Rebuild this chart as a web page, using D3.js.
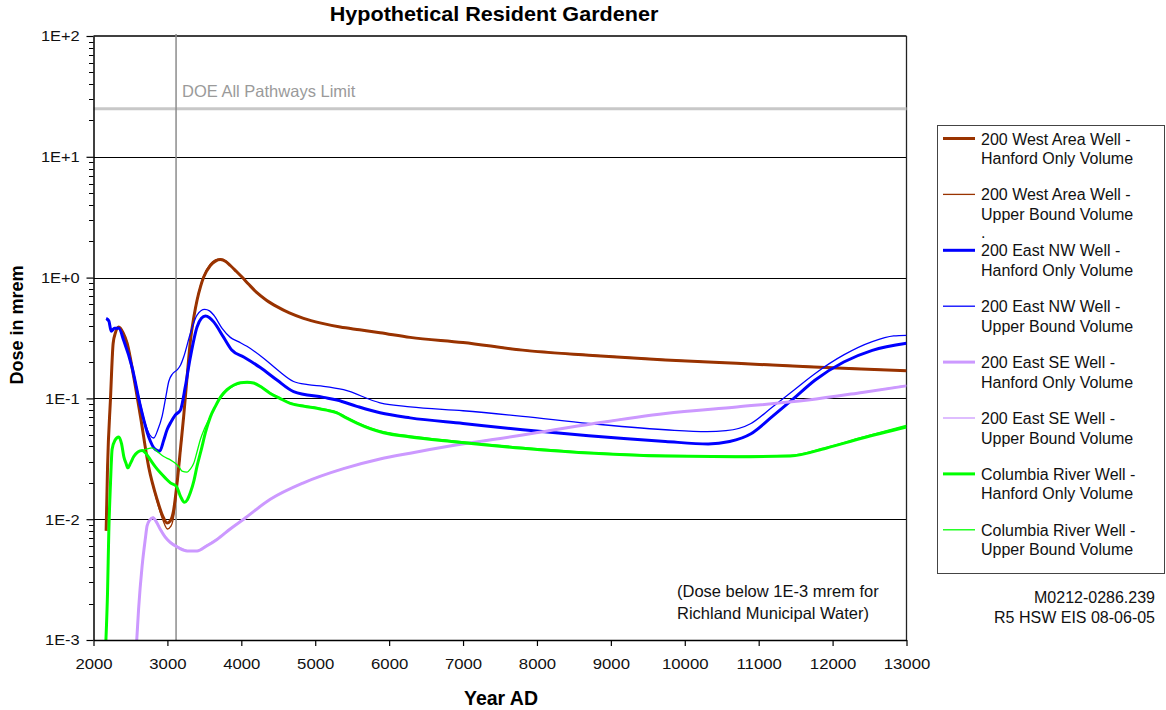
<!DOCTYPE html>
<html><head><meta charset="utf-8">
<script src="https://cdn.jsdelivr.net/npm/d3@7"></script>
<style>
body{margin:0;background:#fff}
svg{display:block;font-family:"Liberation Sans",Arial,sans-serif}
</style>
</head><body>
<svg id="chart" width="1166" height="710"></svg>
<script>
// ---------- data ----------
const chartTitle = "Hypothetical Resident Gardener";
const xAxisTitle = "Year AD";
const yAxisTitle = "Dose in mrem";
const xTickValues = [2000,3000,4000,5000,6000,7000,8000,9000,10000,11000,12000,13000];
const yTickValues = [1e-3,1e-2,1e-1,1,10,100];
const yTickLabels = ["1E-3","1E-2","1E-1","1E+0","1E+1","1E+2"];
const doeLimit = 25;
const doeLabel = "DOE All Pathways Limit";
const markerYear = 3117;
const noteLines = ["(Dose below 1E-3 mrem for","Richland Municipal Water)"];
const idLines = ["M0212-0286.239","R5 HSW EIS 08-06-05"];

const seriesLabels = [
  ["200 West Area Well -","Hanford Only Volume"],
  ["200 West Area Well -","Upper Bound Volume"],
  ["200 East NW Well -","Hanford Only Volume"],
  ["200 East NW Well -","Upper Bound Volume"],
  ["200 East SE Well -","Hanford Only Volume"],
  ["200 East SE Well -","Upper Bound Volume"],
  ["Columbia River Well -","Hanford Only Volume"],
  ["Columbia River Well -","Upper Bound Volume"]
];

// [year, dose mrem]
const westHanford = [[2171,0.008],[2190,0.027],[2230,0.1],[2266,0.286],[2297,0.35],[2342,0.39],[2400,0.35],[2455,0.286],[2545,0.15],[2635,0.071],[2747,0.027],[2860,0.0146],[2940,0.0105],[2995,0.0093],[3040,0.0097],[3080,0.0115],[3131,0.02],[3180,0.04],[3220,0.071],[3270,0.16],[3311,0.30],[3360,0.48],[3401,0.65],[3450,0.85],[3491,1.01],[3581,1.26],[3650,1.37],[3716,1.41],[3790,1.36],[3851,1.26],[3930,1.13],[4009,1.01],[4100,0.88],[4211,0.75],[4340,0.65],[4482,0.575],[4650,0.51],[4842,0.46],[5080,0.42],[5338,0.39],[5600,0.37],[5877,0.35],[6284,0.32],[7000,0.29],[7807,0.251],[8700,0.228],[9737,0.208],[10700,0.195],[11669,0.183],[12300,0.176],[13000,0.169]];
const westUpper = [[2171,0.0085],[2190,0.028],[2230,0.1],[2266,0.28],[2297,0.35],[2342,0.39],[2400,0.35],[2455,0.29],[2545,0.155],[2635,0.073],[2747,0.027],[2860,0.014],[2940,0.0098],[3000,0.0083],[3050,0.0088],[3090,0.011],[3131,0.019],[3180,0.038],[3220,0.07],[3270,0.16],[3311,0.30],[3360,0.49],[3401,0.66],[3450,0.87],[3491,1.03],[3581,1.29],[3650,1.40],[3716,1.43],[3790,1.37],[3851,1.27],[3930,1.14],[4009,1.01],[4100,0.88],[4211,0.75],[4340,0.65],[4482,0.575],[4650,0.51],[4842,0.46],[5080,0.42],[5338,0.39],[5600,0.37],[5877,0.35],[6284,0.32],[7000,0.29],[7807,0.252],[8700,0.229],[9737,0.209],[10700,0.196],[11669,0.184],[12300,0.177],[13000,0.17]];
const nwHanford = [[2171,0.46],[2207,0.44],[2239,0.36],[2284,0.38],[2342,0.38],[2410,0.30],[2523,0.18],[2635,0.086],[2747,0.048],[2838,0.0377],[2896,0.0366],[2950,0.045],[2995,0.055],[3050,0.064],[3108,0.073],[3176,0.08],[3243,0.126],[3311,0.22],[3401,0.39],[3460,0.46],[3514,0.48],[3570,0.465],[3626,0.43],[3761,0.32],[3874,0.25],[4032,0.22],[4257,0.18],[4482,0.142],[4707,0.114],[5113,0.102],[5293,0.097],[5563,0.086],[5877,0.076],[6284,0.069],[7000,0.062],[7807,0.055],[8700,0.049],[9738,0.044],[10317,0.042],[10607,0.044],[10896,0.051],[11186,0.071],[11475,0.1],[11765,0.142],[12151,0.20],[12537,0.25],[13000,0.286]];
const nwUpper = [[2171,0.45],[2207,0.43],[2239,0.37],[2284,0.38],[2342,0.38],[2410,0.30],[2523,0.18],[2635,0.09],[2700,0.062],[2760,0.05],[2815,0.047],[2870,0.055],[2928,0.071],[2975,0.1],[3018,0.138],[3070,0.16],[3131,0.172],[3180,0.19],[3220,0.22],[3311,0.346],[3401,0.49],[3505,0.545],[3570,0.53],[3626,0.49],[3740,0.38],[3851,0.32],[3960,0.295],[4076,0.27],[4301,0.215],[4500,0.17],[4707,0.138],[4900,0.13],[5113,0.126],[5383,0.118],[5877,0.092],[6284,0.085],[7000,0.079],[7807,0.071],[8700,0.062],[9738,0.055],[10300,0.053],[10558,0.054],[10896,0.062],[11186,0.085],[11475,0.117],[11765,0.161],[12151,0.229],[12537,0.295],[12826,0.329],[13000,0.333]];
const seHanford = [[2585,0.001],[2610,0.0018],[2658,0.0041],[2700,0.0068],[2725,0.0088],[2760,0.0098],[2806,0.0103],[2850,0.0095],[2905,0.0082],[2970,0.0071],[3041,0.0064],[3150,0.0058],[3266,0.00546],[3401,0.00546],[3530,0.006],[3671,0.0068],[3850,0.0083],[4032,0.01],[4392,0.0146],[4842,0.02],[5383,0.0262],[5877,0.0315],[6284,0.0352],[6842,0.0405],[7807,0.0497],[8773,0.062],[9738,0.075],[10703,0.085],[11669,0.097],[12400,0.112],[13000,0.127]];
const seUpper = [[2588,0.001],[2612,0.0019],[2660,0.0042],[2702,0.0069],[2727,0.0089],[2762,0.0099],[2808,0.0104],[2852,0.0096],[2907,0.0083],[2972,0.0072],[3043,0.0065],[3152,0.0059],[3268,0.0055],[3403,0.0055],[3532,0.0061],[3673,0.0069],[3852,0.0084],[4034,0.0101],[4394,0.0147],[4844,0.0201],[5385,0.0263],[5879,0.0316],[6286,0.0353],[6844,0.0406],[7809,0.0499],[8775,0.0622],[9740,0.0752],[10705,0.0852],[11671,0.0972],[12402,0.1122],[13000,0.128]];
const crHanford = [[2168,0.001],[2190,0.0025],[2207,0.0078],[2230,0.02],[2252,0.038],[2290,0.045],[2342,0.048],[2380,0.042],[2410,0.033],[2440,0.029],[2464,0.0266],[2500,0.029],[2545,0.033],[2600,0.036],[2658,0.037],[2710,0.035],[2770,0.031],[2840,0.027],[2905,0.0242],[2970,0.022],[3041,0.02],[3122,0.0187],[3176,0.0155],[3230,0.0138],[3270,0.0145],[3311,0.0166],[3360,0.021],[3401,0.0275],[3460,0.038],[3514,0.052],[3580,0.07],[3649,0.086],[3720,0.103],[3806,0.118],[3900,0.129],[3986,0.135],[4080,0.136],[4166,0.134],[4280,0.123],[4392,0.11],[4520,0.1],[4662,0.091],[4850,0.086],[5023,0.083],[5150,0.08],[5293,0.076],[5420,0.069],[5563,0.0625],[5750,0.056],[5923,0.052],[6284,0.048],[6842,0.044],[7807,0.0387],[8773,0.0351],[9738,0.0333],[10703,0.0329],[11427,0.0333],[11910,0.0387],[12392,0.0468],[13000,0.058]];
const crUpper = [[2168,0.001],[2190,0.0025],[2207,0.0078],[2230,0.02],[2252,0.038],[2290,0.045],[2342,0.048],[2380,0.042],[2410,0.033],[2440,0.029],[2464,0.0266],[2500,0.029],[2545,0.033],[2600,0.036],[2658,0.037],[2720,0.038],[2792,0.039],[2870,0.036],[2950,0.033],[3040,0.031],[3108,0.029],[3160,0.027],[3198,0.025],[3266,0.0245],[3310,0.026],[3356,0.029],[3400,0.036],[3446,0.0457],[3500,0.056],[3558,0.0666],[3671,0.091],[3750,0.106],[3851,0.122],[3950,0.131],[4050,0.135],[4166,0.134],[4280,0.124],[4392,0.111],[4520,0.101],[4662,0.092],[4850,0.087],[5023,0.084],[5150,0.081],[5293,0.077],[5420,0.07],[5563,0.0635],[5750,0.057],[5923,0.053],[6284,0.049],[6842,0.0447],[7807,0.0393],[8773,0.0355],[9738,0.0337],[10703,0.0333],[11427,0.0337],[11910,0.0392],[12392,0.0475],[13000,0.06]];

const seriesData = [westHanford, westUpper, nwHanford, nwUpper, seHanford, seUpper, crHanford, crUpper];
const seriesColors = ["#993300","#993300","#0000ff","#0000ff","#cc99ff","#cc99ff","#00ff00","#00ff00"];
const seriesWidths = [3,1.3,3,1.3,3,1.3,3,1.3];

// ---------- layout ----------
const svg = d3.select("#chart");
const L = 93.5, R = 906.5, T = 36, B = 640;
const x = d3.scaleLinear().domain([2000,13000]).range([L,R]);
const y = d3.scaleLog().domain([1e-3,1e2]).range([B,T]);

svg.append("defs").append("clipPath").attr("id","clip")
  .append("rect").attr("x",L).attr("y",T).attr("width",R-L).attr("height",B-T);

// gridlines
svg.append("g").selectAll("line").data([1e-2,1e-1,1,10]).join("line")
  .attr("x1",L).attr("x2",R)
  .attr("y1",d=>Math.round(y(d))+0.5).attr("y2",d=>Math.round(y(d))+0.5)
  .attr("stroke","#000").attr("stroke-width",1.2);

// plot border top & right
svg.append("line").attr("x1",L).attr("x2",R).attr("y1",y(100)).attr("y2",y(100))
  .attr("stroke","#000").attr("stroke-width",1.5);
svg.append("line").attr("x1",R).attr("x2",R).attr("y1",T).attr("y2",B)
  .attr("stroke","#222").attr("stroke-width",1.3);

// DOE limit
svg.append("line").attr("x1",L).attr("x2",R).attr("y1",y(doeLimit)).attr("y2",y(doeLimit))
  .attr("stroke","#c8c8c8").attr("stroke-width",3);
svg.append("text").attr("x",182).attr("y",97).attr("fill","#9a9a9a")
  .attr("font-size","16.5px").text(doeLabel);

// vertical marker
svg.append("line").attr("x1",x(markerYear)).attr("x2",x(markerYear)).attr("y1",T-2).attr("y2",B)
  .attr("stroke","#8c8c8c").attr("stroke-width",1.5);

// series
const line = d3.line().x(d=>x(d[0])).y(d=>y(d[1])).curve(d3.curveMonotoneX);
svg.append("g").attr("clip-path","url(#clip)").selectAll("path").data(seriesData).join("path")
  .attr("d",line).attr("fill","none")
  .attr("stroke",(d,i)=>seriesColors[i]).attr("stroke-width",(d,i)=>seriesWidths[i])
  .attr("stroke-linejoin","round");

// x axis
const xAxis = svg.append("g").attr("transform",`translate(0,${B})`)
  .call(d3.axisBottom(x).tickValues(xTickValues).tickFormat(d3.format("d")).tickSize(6).tickSizeOuter(0).tickPadding(12));
xAxis.select(".domain").attr("stroke","#000").attr("stroke-width",1.5);
xAxis.selectAll(".tick line").attr("stroke","#000").attr("stroke-width",1.2);
xAxis.selectAll(".tick text").attr("font-size","15.5px").attr("fill","#111")
  .attr("font-family","'Liberation Sans',Arial,sans-serif")
  .attr("transform","scale(1.08,1)");

// y axis
const yAxis = svg.append("g").attr("transform",`translate(${L},0)`)
  .call(d3.axisLeft(y).tickValues(yTickValues).tickFormat((d,i)=>yTickLabels[i]).tickSize(7).tickSizeOuter(0).tickPadding(6));
yAxis.select(".domain").attr("stroke","#000").attr("stroke-width",1.5);
yAxis.selectAll(".tick line").attr("stroke","#000").attr("stroke-width",1.2);
yAxis.selectAll(".tick text").attr("font-size","15.5px").attr("fill","#111")
  .attr("font-family","'Liberation Sans',Arial,sans-serif")
  .attr("transform","scale(1.06,1)");

// minor y ticks
const minorVals = [];
[-3,-2,-1,0,1].forEach(e=>{ [2,3,4,5,6,7,8,9].forEach(m=>minorVals.push(m*Math.pow(10,e))); });
svg.append("g").selectAll("line").data(minorVals).join("line")
  .attr("x1",L-4.5).attr("x2",L)
  .attr("y1",d=>Math.round(y(d))+0.5).attr("y2",d=>Math.round(y(d))+0.5)
  .attr("stroke","#000").attr("stroke-width",1);

// titles
svg.append("g").attr("transform","translate(494,21) scale(1.08,1)")
  .append("text").attr("text-anchor","middle").attr("font-weight","bold")
  .attr("font-size","20px").attr("fill","#000").text(chartTitle);
svg.append("text").attr("transform","translate(501,705)").attr("text-anchor","middle")
  .attr("font-weight","bold").attr("font-size","19.5px").attr("fill","#000").text(xAxisTitle);
svg.append("text").attr("transform","translate(23,325) rotate(-90)").attr("text-anchor","middle")
  .attr("font-weight","bold").attr("font-size","18px").attr("fill","#000").text(yAxisTitle);

// note in plot
svg.append("g").selectAll("text").data(noteLines).join("text")
  .attr("x",677).attr("y",(d,i)=>597+i*21.5).attr("font-size","16.5px").attr("fill","#111").text(d=>d);

// id lines
svg.append("g").selectAll("text").data(idLines).join("text")
  .attr("x",1155).attr("y",(d,i)=>603+i*19.5).attr("text-anchor","end")
  .attr("font-size","16px").attr("fill","#111").text(d=>d);

// legend
const lg = svg.append("g");
lg.append("rect").attr("x",937.5).attr("y",125.5).attr("width",227).attr("height",448)
  .attr("fill","#fff").attr("stroke","#444").attr("stroke-width",1);
const items = lg.selectAll("g.item").data(seriesLabels).join("g").attr("class","item")
  .attr("transform",(d,i)=>`translate(0,${138.5+i*55.9})`);
items.append("line").attr("x1",943).attr("x2",975).attr("y1",0).attr("y2",0)
  .attr("stroke",(d,i)=>seriesColors[i]).attr("stroke-width",(d,i)=>seriesWidths[i]);
items.append("text").attr("x",981).attr("y",6).attr("font-size","16px").attr("fill","#111").text(d=>d[0]);
items.append("text").attr("x",981).attr("y",25.5).attr("font-size","16px").attr("fill","#111").text(d=>d[1]);
lg.append("text").attr("x",981).attr("y",238).attr("font-size","16px").attr("fill","#111").text(".");
</script>
</body></html>
